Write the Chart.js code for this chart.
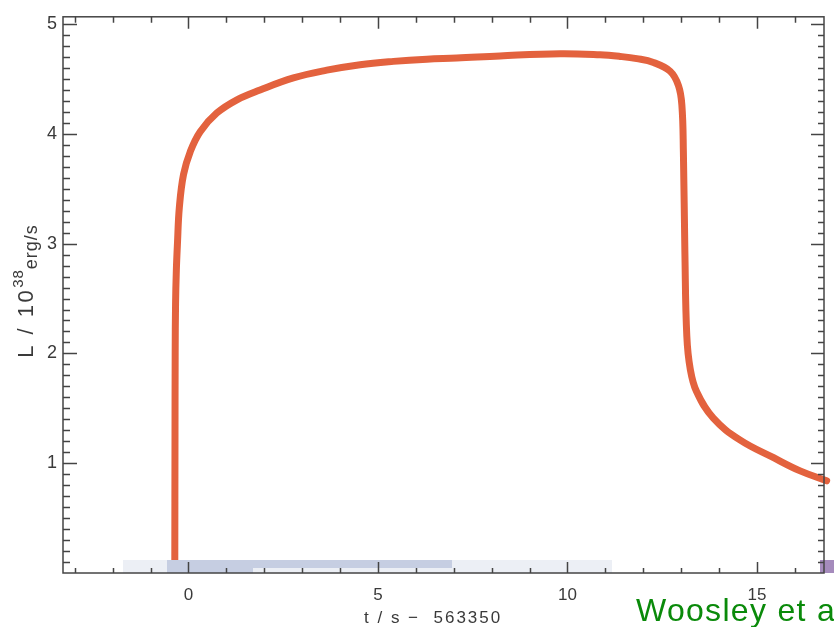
<!DOCTYPE html>
<html>
<head>
<meta charset="utf-8">
<script src="https://cdn.jsdelivr.net/npm/chart.js@4/dist/chart.umd.min.js"></script>
<style>
  html, body { margin: 0; padding: 0; background: #ffffff; }
  #wrap { width: 834px; height: 627px; position: relative; }
</style>
</head>
<body>
<div id="wrap"><canvas id="c" width="834" height="627"></canvas></div>
<script>
// Light curve of the burst: time (s, offset by 563350 s) and luminosity (1e38 erg/s)
const timeSeconds = [
  -0.36, -0.355, -0.35, -0.34, -0.32, -0.29, -0.24, -0.13, 0.05, 0.31,
  0.75, 1.28, 1.89, 2.77, 3.65, 4.53, 5.41, 6.29, 7.08, 8.22,
  9.81, 10.86, 11.39, 11.83, 12.27, 12.71, 12.93, 13.02, 13.06, 13.10,
  13.15, 13.24, 13.41, 13.85, 14.56, 15.44, 16.14, 16.84
];
const luminosity = [
  0.10, 1.20, 2.00, 2.45, 2.75, 3.00, 3.33, 3.63, 3.84, 4.02,
  4.19, 4.31, 4.40, 4.51, 4.58, 4.63, 4.66, 4.68, 4.69, 4.71,
  4.73, 4.72, 4.705, 4.685, 4.65, 4.57, 4.44, 4.26, 3.83, 2.91,
  2.16, 1.86, 1.65, 1.41, 1.21, 1.05, 0.93, 0.84
];
const xTickValues = [0, 5, 10, 15];
const yTickValues = [1, 2, 3, 4, 5];
const xLabel = 't / s \u2212  563350';
const yLabelParts = ['L / 10', '38', 'erg/s'];
const creditText = 'Woosley et al.';

const AXIS_COLOR = '#444444';
const TEXT_COLOR = '#3a3a3a';
const FONT_FAMILY = '"Liberation Sans", Arial, sans-serif';

// Frame, inward tick marks, titles and decorations drawn around the plot
const framePlugin = {
  id: 'frame',
  afterDatasetsDraw(chart) {
    const { ctx, chartArea: a } = chart;
    ctx.save();
    // pale strip along the bottom of the plot
    ctx.fillStyle = '#eceff5';
    ctx.fillRect(123, a.bottom - 13, 489, 13);
    ctx.fillStyle = '#c6cee2';
    ctx.fillRect(167, a.bottom - 13, 285, 8);
    ctx.fillRect(167, a.bottom - 5, 86, 5);
    ctx.fillStyle = '#a58bbc';
    ctx.fillRect(a.right - 4, a.bottom - 13, 20, 13);
    ctx.restore();
  },
  afterDraw(chart) {
    const { ctx, chartArea: a, scales } = chart;
    const xs = scales.x, ys = scales.y;
    ctx.save();
    ctx.strokeStyle = AXIS_COLOR;
    ctx.lineWidth = 1.5;
    ctx.strokeRect(a.left, a.top, a.right - a.left, a.bottom - a.top);

    ctx.beginPath();
    // x ticks every 1 s, major every 5 s (bottom and top)
    for (let v = Math.ceil(xs.min); v <= Math.floor(xs.max); v++) {
      const px = Math.round(xs.getPixelForValue(v)) + 0.5;
      const major = v % 5 === 0;
      ctx.moveTo(px, a.bottom);
      ctx.lineTo(px, a.bottom - (major ? 11 : 5));
      ctx.moveTo(px, a.top);
      ctx.lineTo(px, a.top + (major ? 12 : 6));
    }
    // y ticks every 0.1, major every 1 (left and right)
    for (let i = 1; i / 10 <= ys.max; i++) {
      const py = Math.round(ys.getPixelForValue(i / 10)) + 0.5;
      const major = i % 10 === 0;
      ctx.moveTo(a.left, py);
      ctx.lineTo(a.left + (major ? 14 : 7), py);
      ctx.moveTo(a.right, py);
      ctx.lineTo(a.right - (major ? 13 : 6), py);
    }
    ctx.stroke();

    // x axis title
    ctx.fillStyle = TEXT_COLOR;
    ctx.font = '17px ' + FONT_FAMILY;
    ctx.letterSpacing = '2px';
    ctx.textAlign = 'left';
    ctx.textBaseline = 'alphabetic';
    ctx.fillText(xLabel, 364, 623);

    // y axis title with superscript exponent
    ctx.save();
    ctx.translate(33, 291);
    ctx.rotate(-Math.PI / 2);
    const fonts = ['22px', '15px', '18px'];
    const spacing = ['2.5px', '1px', '1px'];
    const shifts = [0, -10, 4];
    let total = 0;
    const widths = yLabelParts.map((t, i) => {
      ctx.font = fonts[i] + ' ' + FONT_FAMILY;
      ctx.letterSpacing = spacing[i];
      const w = ctx.measureText(t).width;
      total += w;
      return w;
    });
    let x0 = -total / 2;
    yLabelParts.forEach((t, i) => {
      ctx.font = fonts[i] + ' ' + FONT_FAMILY;
      ctx.letterSpacing = spacing[i];
      ctx.fillText(t, x0, shifts[i]);
      x0 += widths[i];
    });
    ctx.restore();

    // credit line
    ctx.fillStyle = '#0a8a0a';
    ctx.font = '32px ' + FONT_FAMILY;
    ctx.letterSpacing = '1.3px';
    ctx.fillText(creditText, 636, 621);
    ctx.restore();
  }
};

new Chart(document.getElementById('c'), {
  type: 'line',
  data: {
    datasets: [{
      data: timeSeconds.map((t, i) => ({ x: t, y: luminosity[i] })),
      borderColor: '#e3623e',
      borderWidth: 7,
      borderCapStyle: 'round',
      borderJoinStyle: 'round',
      pointRadius: 0,
      tension: 0.4,
      fill: false,
      clip: 8
    }]
  },
  options: {
    responsive: false,
    devicePixelRatio: 1,
    animation: false,
    layout: { padding: { top: 11, right: 10, left: 0, bottom: 0 } },
    plugins: { legend: { display: false }, tooltip: { enabled: false } },
    scales: {
      x: {
        type: 'linear',
        min: -3.31,
        max: 16.77,
        grid: { display: false, drawTicks: false },
        border: { display: false },
        afterBuildTicks: s => { s.ticks = xTickValues.map(v => ({ value: v })); },
        afterFit: s => { s.height = 54; },
        ticks: {
          color: TEXT_COLOR,
          padding: 12,
          maxRotation: 0,
          font: { family: FONT_FAMILY, size: 17 }
        }
      },
      y: {
        type: 'linear',
        min: 0,
        max: 5.066,
        grid: { display: false, drawTicks: false },
        border: { display: false },
        afterBuildTicks: s => { s.ticks = yTickValues.map(v => ({ value: v })); },
        afterFit: s => { s.width = 63; },
        ticks: {
          color: TEXT_COLOR,
          padding: 6,
          font: { family: FONT_FAMILY, size: 18 }
        }
      }
    }
  },
  plugins: [framePlugin]
});
</script>
</body>
</html>
